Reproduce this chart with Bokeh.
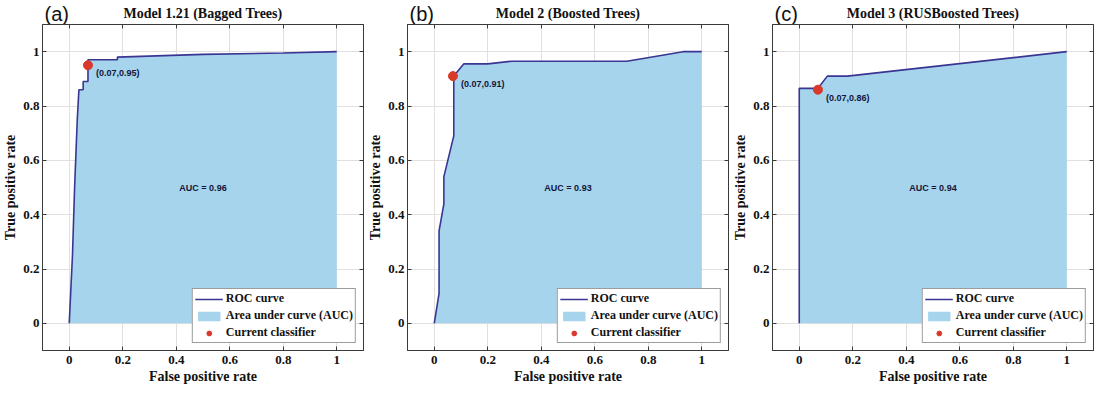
from bokeh.plotting import figure
from bokeh.layouts import row, column
from bokeh.models import Legend, LegendItem, Range1d, LinearAxis
from bokeh.core.properties import value
from bokeh.embed import file_html
from bokeh.resources import INLINE

# ---------------- data ----------------
panel_tags = ["(a)", "(b)", "(c)"]
titles = ["Model 1.21 (Bagged Trees)", "Model 2 (Boosted Trees)", "Model 3 (RUSBoosted Trees)"]

fpr_a = [0, 0.012, 0.02, 0.03, 0.036, 0.052, 0.052, 0.07, 0.07, 0.18, 0.18, 0.5, 0.8, 1.0]
tpr_a = [0, 0.25, 0.5, 0.75, 0.86, 0.86, 0.89, 0.89, 0.97, 0.97, 0.98, 0.99, 0.995, 1.0]

fpr_b = [0, 0.018, 0.018, 0.036, 0.036, 0.073, 0.073, 0.11, 0.2, 0.29, 0.72, 0.93, 1.0]
tpr_b = [0, 0.11, 0.34, 0.44, 0.54, 0.69, 0.91, 0.955, 0.955, 0.965, 0.965, 1.0, 1.0]

fpr_c = [0, 0, 0.07, 0.105, 0.18, 1.0]
tpr_c = [0, 0.865, 0.865, 0.91, 0.91, 1.0]

auc_values = [0.96, 0.93, 0.94]
op_fpr = [0.07, 0.07, 0.07]
op_tpr = [0.95, 0.91, 0.86]

ticks = [0, 0.2, 0.4, 0.6, 0.8, 1]
tick_labels = ["0", "0.2", "0.4", "0.6", "0.8", "1"]

curves = [(fpr_a, tpr_a), (fpr_b, tpr_b), (fpr_c, tpr_c)]

# ---------------- style ----------------
SERIF = "Liberation Serif"
SANS = "Liberation Sans"
LINE_C = "#3a3592"
FILL_C = "#a6d4ec"
DOT_C = "#d8392b"
FRAME_C = "#3a3a3a"
W = 365
LEFT = 40
RIGHT = 2
HEAD_H = 24

panels = []
for i in range(3):
    fpr, tpr = curves[i]

    # header strip holding the panel tag and the title, aligned with the plot frame
    h = figure(width=W, height=HEAD_H, x_range=Range1d(-0.1, 1.1), y_range=Range1d(0, 1),
               output_backend="svg", toolbar_location=None,
               min_border_left=LEFT, min_border_right=RIGHT, min_border_top=0, min_border_bottom=0)
    h.axis.visible = False
    h.grid.visible = False
    h.outline_line_color = None
    h.text(x=[-0.1], y=[0], text=[panel_tags[i]], x_offset=2, y_offset=0,
           text_align="left", text_baseline="bottom",
           text_font=value(SANS), text_font_size="20px", text_color="#111111")
    h.text(x=[0.5], y=[0.45], text=[titles[i]], text_align="center", text_baseline="middle",
           text_font=value(SERIF), text_font_style="bold", text_font_size="14px", text_color="#111111")

    p = figure(width=W, height=386 - HEAD_H, x_range=Range1d(-0.1, 1.1), y_range=Range1d(-0.1, 1.1),
               output_backend="svg", toolbar_location=None,
               min_border_left=LEFT, min_border_right=RIGHT, min_border_top=0, min_border_bottom=30)
    xa = p.xaxis[0]
    ya = p.yaxis[0]

    for ax in (xa, ya):
        ax.ticker = ticks
        ax.major_label_overrides = {t: s for t, s in zip(ticks, tick_labels)}
        ax.major_label_text_font = SERIF
        ax.major_label_text_font_style = "bold"
        ax.major_label_text_font_size = "13px"
        ax.major_label_text_color = "#111111"
        ax.axis_label_text_font = SERIF
        ax.axis_label_text_font_style = "bold"
        ax.axis_label_text_font_size = "14px"
        ax.axis_label_text_color = "#111111"
        ax.major_tick_in = 4
        ax.major_tick_out = 0
        ax.minor_tick_line_color = None
        ax.axis_line_color = FRAME_C
        ax.major_tick_line_color = FRAME_C
    xa.axis_label = "False positive rate"
    ya.axis_label = "True positive rate"
    xa.major_label_standoff = 5
    xa.axis_label_standoff = 2
    ya.major_label_standoff = 3
    ya.axis_label_standoff = 2

    # MATLAB-style box ticks on the top and right edges (no labels)
    for side in ("above", "right"):
        p.add_layout(LinearAxis(ticker=ticks, major_label_overrides={t: "" for t in ticks},
                                major_label_standoff=0, major_label_text_font_size="1px",
                                major_tick_in=4, major_tick_out=0, minor_tick_line_color=None,
                                axis_line_color=FRAME_C, major_tick_line_color=FRAME_C), side)

    p.grid.grid_line_color = "#e4dfdf"
    p.grid.grid_line_width = 1
    p.outline_line_color = FRAME_C
    p.outline_line_width = 1
    p.outline_line_alpha = 1

    area_r = p.varea(x=fpr, y1=[0] * len(fpr), y2=tpr, fill_color=FILL_C, fill_alpha=1)
    line_r = p.line(fpr, tpr, line_color=LINE_C, line_width=1.6)
    dot_r = p.scatter([op_fpr[i]], [op_tpr[i]], size=9, fill_color=DOT_C, line_color=DOT_C)

    p.text(x=[op_fpr[i]], y=[op_tpr[i]], text=[f"({op_fpr[i]:.2f},{op_tpr[i]:.2f})"],
           x_offset=8, y_offset=8, text_baseline="middle", text_align="left",
           text_font=value(SANS), text_font_style="bold", text_font_size="9px", text_color="#15153a")
    p.text(x=[0.5], y=[0.5], text=[f"AUC = {auc_values[i]:.2f}"],
           text_baseline="middle", text_align="center",
           text_font=value(SANS), text_font_style="bold", text_font_size="9px", text_color="#15153a")

    legend = Legend(items=[
        LegendItem(label="ROC curve", renderers=[line_r]),
        LegendItem(label="Area under curve (AUC)", renderers=[area_r]),
        LegendItem(label="Current classifier", renderers=[dot_r]),
    ], location="bottom_right")
    legend.label_text_font = SERIF
    legend.label_text_font_style = "bold"
    legend.label_text_font_size = "12px"
    legend.label_text_color = "#111111"
    legend.glyph_width = 28
    legend.glyph_height = 12
    legend.label_height = 12
    legend.label_standoff = 3
    legend.spacing = 2
    legend.padding = 2
    legend.margin = 7
    legend.border_line_color = FRAME_C
    legend.border_line_width = 1
    legend.background_fill_alpha = 1
    p.add_layout(legend)

    panels.append(column(h, p, spacing=0))

layout = row(*panels, spacing=0)
open("out.html", "w").write(file_html(layout, INLINE))
